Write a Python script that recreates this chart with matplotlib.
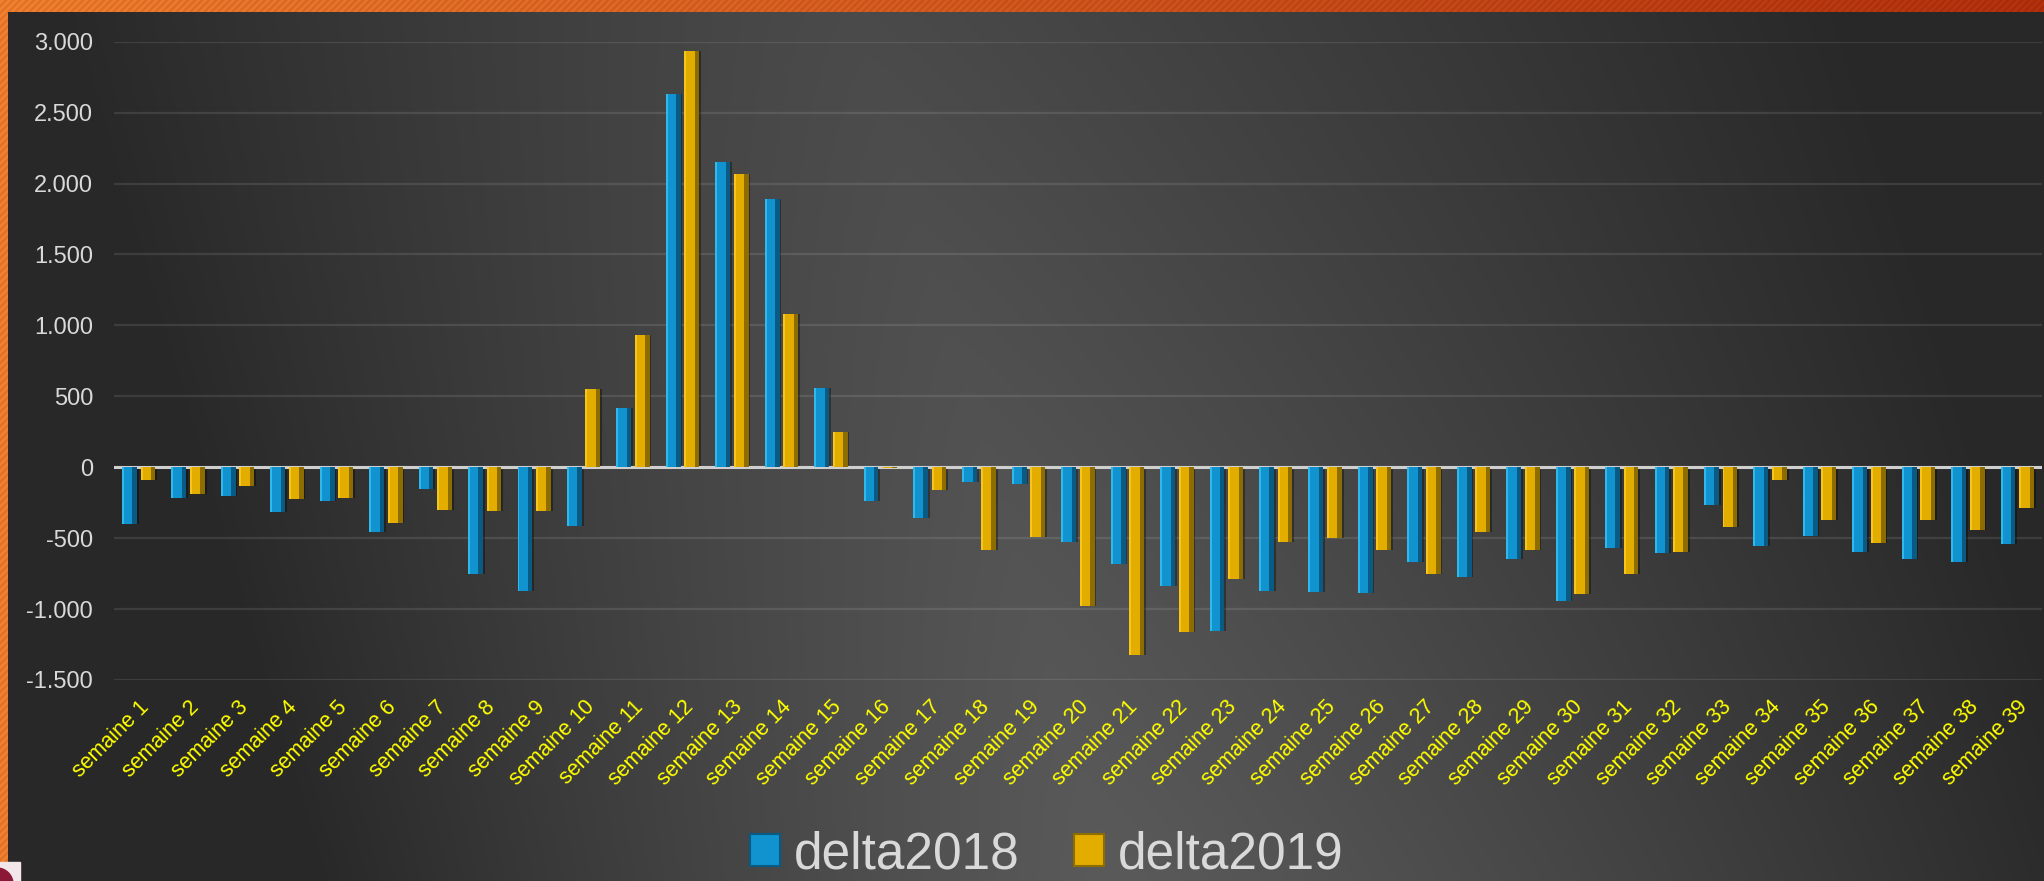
import numpy as np
import matplotlib
matplotlib.use("Agg")
import matplotlib.pyplot as plt
from matplotlib.patches import Patch, Rectangle, Circle
from matplotlib.ticker import FuncFormatter, MultipleLocator

plt.rcParams['font.family'] = ['Liberation Sans', 'DejaVu Sans']

# data
weeks = [f"semaine {i}" for i in range(1, 40)]
delta2018 = [-400, -215, -205, -315, -235, -455, -150, -750, -870, -415,
             415, 2630, 2150, 1890, 560, -235, -360, -105, -120, -530,
             -680, -840, -1155, -870, -880, -885, -670, -775, -645, -945,
             -570, -605, -265, -555, -485, -595, -650, -665, -540]
delta2019 = [-90, -190, -135, -225, -215, -390, -300, -310, -310, 550,
             930, 2935, 2070, 1080, 250, -8, -160, -580, -490, -975,
             -1325, -1165, -785, -525, -500, -580, -755, -455, -585, -895,
             -750, -595, -420, -90, -375, -535, -370, -440, -285]
series = ["delta2018", "delta2019"]

W, H = 2044, 881
fig = plt.figure(figsize=(W / 100, H / 100), dpi=100)

# background: dark grey with a lighter diagonal band, orange frame top/left
yy, xx = np.mgrid[0:H, 0:W].astype(float)
d = xx - (850 + 0.3 * yy)
t = np.clip(np.where(d < 0, -d / 800, d / 1000), 0, 1)
light = 74 + 16 * yy / H
dark = 40
g = (light - (light - dark) * t ** 1.2) / 255
img = np.dstack([g, g, g])

stripes = 1 + 0.06 * np.sin(2 * np.pi * (xx + yy) / 7)
fx = xx / W
orange = np.dstack([(234 - 60 * fx) / 255, (122 - 76 * fx) / 255, (44 - 32 * fx) / 255])
orange = orange * stripes[..., None]
frame = (yy < 12) | (xx < 8)
img[frame] = np.clip(orange[frame], 0, 1)

bgax = fig.add_axes([0, 0, 1, 1], zorder=-10)
bgax.imshow(img, extent=[0, W, H, 0], aspect='auto', interpolation='bilinear')
bgax.add_patch(Rectangle((0, 862), 20, 19, color='#f3e6ea'))
bgax.add_patch(Circle((-3, 884), 16, color='#8c1838'))
bgax.set_xlim(0, W)
bgax.set_ylim(H, 0)
bgax.axis('off')

ax = fig.add_axes([114 / W, 201 / H, (2042 - 114) / W, (839.3 - 201) / H])
ax.set_facecolor('none')

x = np.arange(len(weeks))
bw = 0.30
off = 0.1875
colors = {"delta2018": ("#1193cf", "#0a5b84", "#2fb9ec"),
          "delta2019": ("#e3ad00", "#8d6c00", "#f7c51c")}

for name, vals, sgn in [("delta2018", delta2018, -1), ("delta2019", delta2019, 1)]:
    face, shade, hi = colors[name]
    xs = x + sgn * off
    ax.bar(xs + 0.035, vals, width=bw, color='black', alpha=0.35, zorder=2)
    ax.bar(xs, vals, width=bw, color=face, zorder=3)
    ax.bar(xs + bw / 2 - 0.045, vals, width=0.09, color=shade, zorder=4)
    ax.bar(xs - bw / 2 + 0.02, vals, width=0.04, color=hi, zorder=4)

ax.axhline(0, color='#cfcfcf', lw=2.2, zorder=2.5)

ax.set_xlim(-0.5, len(weeks) - 0.5)
ax.set_ylim(-1500, 3000)
ax.yaxis.set_major_locator(MultipleLocator(500))
ax.yaxis.set_major_formatter(FuncFormatter(lambda v, p: f"{int(v):,}".replace(",", ".")))
ax.yaxis.grid(True, color='white', alpha=0.1, lw=1.6)
ax.set_axisbelow(True)
for s in ax.spines.values():
    s.set_visible(False)

ax.tick_params(axis='y', length=0, pad=15, labelsize=17, labelcolor='#d9d9d9')
ax.tick_params(axis='x', length=0, pad=12)
ax.set_xticks(x)
ax.set_xticklabels(weeks, rotation=45, ha='right', va='top', rotation_mode='anchor',
                   fontsize=15.5, color='#ffff00')

handles = [Patch(facecolor=colors[n][0], edgecolor=colors[n][1], lw=1.5, label=n) for n in series]
leg = fig.legend(handles=handles, loc='center', bbox_to_anchor=(0.512, 0.03), ncol=2,
                 frameon=False, fontsize=37, handlelength=0.58, handleheight=0.58,
                 handletextpad=0.27, columnspacing=1.06)
for txt in leg.get_texts():
    txt.set_color('#d9d9d9')

fig.savefig("out.png", dpi=100)
